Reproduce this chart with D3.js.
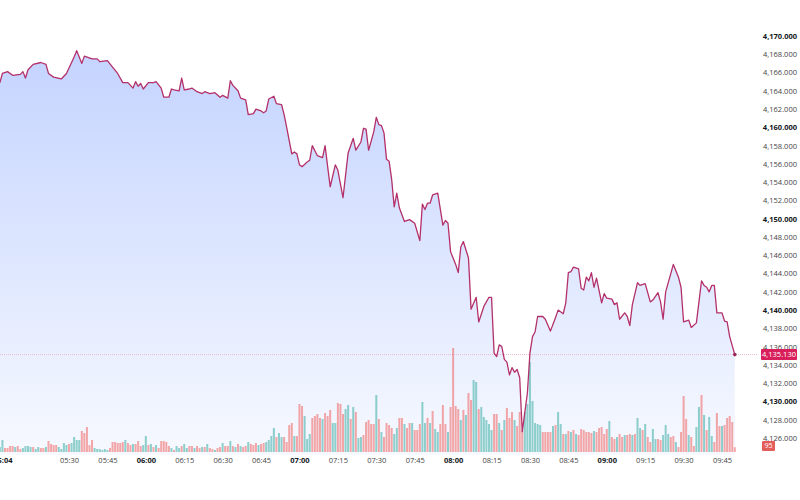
<!DOCTYPE html>
<html>
<head>
<meta charset="utf-8">
<script src="https://cdn.jsdelivr.net/npm/d3@7"></script>
<style>
  body { margin: 0; background: #fff; }
  svg text { font-family: "Open Sans", Roboto, sans-serif; }
</style>
</head>
<body>
<div id="chart"></div>
<script>
const parseTime = d3.timeParse("%H:%M");

// price line
const priceTimes = [
  "05:02","05:03","05:04","05:06","05:08","05:11","05:12","05:13","05:14","05:16",
  "05:19","05:21","05:22","05:24","05:27","05:29","05:32","05:33","05:35","05:36",
  "05:39","05:41","05:42","05:45","05:47","05:49","05:51","05:53","05:55","05:56",
  "05:57","05:58","05:59","06:01","06:03","06:04","06:06","06:07","06:09","06:10",
  "06:11","06:13","06:14","06:15","06:17","06:18","06:20","06:22","06:23","06:25",
  "06:27","06:29","06:30","06:32","06:33","06:34","06:36","06:37","06:39","06:40",
  "06:42","06:43","06:45","06:46","06:47","06:48","06:50","06:51","06:53","06:54",
  "06:55","06:57","06:58","06:59","07:00","07:01","07:03","07:04","07:05","07:07",
  "07:09","07:10","07:11","07:12","07:14","07:15","07:17","07:19","07:21","07:22",
  "07:24","07:25","07:26","07:27","07:29","07:30","07:31","07:32","07:33","07:34",
  "07:35","07:36","07:37","07:38","07:39","07:41","07:43","07:45","07:47","07:48",
  "07:49","07:50","07:51","07:52","07:54","07:56","07:57","07:58","07:59","08:01",
  "08:02","08:03","08:04","08:06","08:07","08:09","08:10","08:12","08:14","08:15",
  "08:16","08:17","08:18","08:19","08:20","08:21","08:22","08:23","08:24","08:25",
  "08:26","08:27","08:29","08:30","08:31","08:32","08:33","08:35","08:36","08:38",
  "08:40","08:41","08:43","08:44","08:45","08:46","08:47","08:49","08:50","08:51",
  "08:52","08:53","08:54","08:55","08:56","08:58","08:59","09:00","09:02","09:03",
  "09:04","09:05","09:07","09:08","09:09","09:10","09:12","09:13","09:15","09:17",
  "09:18","09:20","09:21","09:22","09:23","09:26","09:28","09:29","09:30","09:32",
  "09:33","09:35","09:37","09:38","09:39","09:40","09:41","09:42","09:43","09:45",
  "09:46","09:47","09:48","09:50"
];
const priceValues = [
  4164.7,4164.9,4165.9,4166.1,4165.7,4165.8,4166.1,4165.4,4166.3,4166.9,
  4167.1,4166.9,4165.9,4165.5,4165.3,4165.9,4167.7,4168.4,4167.0,4167.8,
  4167.5,4167.5,4167.2,4167.3,4166.6,4165.9,4164.9,4164.9,4164.3,4165.0,
  4164.5,4164.8,4164.2,4164.9,4164.9,4165.0,4164.3,4163.3,4163.3,4164.2,
  4164.1,4164.0,4165.4,4164.1,4164.2,4164.3,4163.9,4163.7,4163.9,4163.7,
  4163.8,4163.3,4163.5,4163.2,4165.1,4164.6,4164.0,4163.2,4163.0,4161.4,
  4161.5,4162.0,4161.8,4161.6,4161.8,4163.1,4163.4,4162.6,4162.5,4161.4,
  4160.0,4157.1,4157.3,4157.1,4155.9,4155.7,4156.2,4156.4,4158.0,4156.9,
  4156.7,4158.0,4155.7,4153.5,4155.9,4155.3,4152.3,4157.2,4158.8,4157.5,
  4158.4,4159.9,4159.8,4157.5,4159.5,4161.1,4160.3,4160.2,4159.4,4156.5,
  4156.3,4154.3,4151.3,4152.8,4151.2,4149.7,4149.9,4149.5,4147.6,4151.6,
  4151.0,4151.7,4151.7,4152.6,4152.8,4149.3,4149.8,4149.5,4146.4,4145.0,
  4144.1,4146.9,4147.5,4145.7,4140.1,4141.4,4138.7,4140.4,4141.4,4141.4,
  4135.3,4134.9,4136.2,4136.0,4134.6,4134.3,4132.9,4133.7,4133.2,4133.5,
  4132.6,4126.7,4130.9,4135.3,4137.1,4137.6,4139.3,4139.3,4139.0,4137.7,
  4139.2,4140.0,4139.6,4140.8,4144.1,4144.2,4144.7,4144.5,4142.4,4142.2,
  4143.6,4143.2,4144.1,4142.5,4143.5,4140.8,4141.8,4141.3,4141.2,4140.6,
  4140.8,4139.0,4139.7,4139.3,4138.3,4140.6,4143.0,4142.7,4142.9,4140.9,
  4141.1,4141.9,4140.9,4139.0,4142.0,4145.0,4143.6,4142.5,4138.7,4138.9,
  4138.1,4138.6,4143.2,4142.7,4142.5,4142.0,4142.7,4142.7,4139.7,4139.7,
  4138.8,4138.7,4137.1,4135.13
];

// one volume bar per minute from 05:03
const volStart = "05:03";
const volumes = [
  100,240,80,80,120,120,100,120,60,80,
  120,120,100,100,60,100,80,80,100,220,
  160,140,140,100,60,180,140,160,180,300,
  240,240,420,380,500,140,240,80,60,60,
  40,60,40,80,200,200,180,180,200,240,
  180,140,160,160,220,120,140,320,140,160,
  100,140,80,220,220,200,120,80,40,120,
  80,120,160,80,120,120,80,120,80,100,
  100,160,80,60,40,80,100,180,120,120,
  220,120,100,160,120,100,120,200,160,140,
  180,140,160,180,200,240,320,480,300,380,
  300,300,200,540,580,320,320,960,920,720,
  260,360,680,720,760,680,660,780,720,840,
  580,580,980,960,760,860,940,660,900,800,
  280,300,340,600,640,560,560,1140,660,400,
  300,580,540,480,360,480,680,680,560,480,
  580,580,440,440,560,1000,580,680,580,820,
  460,400,560,940,560,400,900,2080,920,860,
  640,840,740,1180,1040,1440,1400,860,900,700,
  640,560,440,760,760,580,440,640,880,680,
  800,640,520,800,440,800,960,1800,1020,580,
  560,540,400,400,400,400,520,540,800,560,
  360,360,420,400,440,360,340,460,440,400,
  400,380,420,400,480,500,360,460,620,300,
  260,300,360,300,340,340,360,340,360,680,
  480,440,560,300,200,460,260,260,240,340,
  540,360,300,320,200,100,400,1120,660,340,
  300,120,500,900,1140,740,440,700,320,200,
  780,520,520,540,680,720,600,95
];
// u = up bar (teal), d = down bar (red)
const volDir =
  "uudddduddu" + "uuuduuddud" + "ddduuuuduu" + "uuddddduuu" + "uuuddddddu" +
  "dduddduudu" + "dudddddudu" + "uduudduddu" + "dudduddudd" + "udududdudd" +
  "dudduuuudu" + "uddddudddu" + "uudddduddd" + "uuddduudud" + "uudddddudu" +
  "dddduuddud" + "duddduudud" + "uudddudddd" + "ududduuduu" + "uuuddududd" +
  "duddduuuuu" + "uudddduduu" + "dudududddd" + "ddudddddud" + "dudduddudu" +
  "ududduuddu" + "uudduddddu" + "dduududuud" + "dduddddd";

const xTickLabels = ["05:04","05:30","05:45","06:00","06:15","06:30","06:45","07:00",
  "07:15","07:30","07:45","08:00","08:15","08:30","08:45","09:00","09:15","09:30","09:45"];
const yTickValues = d3.range(4126, 4171, 2);

const lastPrice = priceValues[priceValues.length - 1];
const lastVolume = volumes[volumes.length - 1];

const width = 800, height = 500;
const plotRight = 758;
const paneBottom = 455;

const svg = d3.select("#chart").append("svg")
  .attr("width", width)
  .attr("height", height);

const x = d3.scaleTime()
  .domain([parseTime("05:30"), parseTime("09:45")])
  .range([69, 722]);

const y = d3.scaleLinear()
  .domain([4126, 4170])
  .range([438, 36]);

const yVol = d3.scaleLinear()
  .domain([0, 2200])
  .range([452, 342]);

const prices = priceTimes.map((t, i) => ({ t: parseTime(t), v: priceValues[i] }));
const t0 = parseTime(volStart);
const bars = volumes.map((v, i) => ({ t: d3.timeMinute.offset(t0, i), v, up: volDir[i] === "u" }));

const defs = svg.append("defs");
defs.append("clipPath").attr("id", "plot-clip")
  .append("rect").attr("x", 0).attr("y", 0).attr("width", plotRight).attr("height", paneBottom);

const grad = defs.append("linearGradient")
  .attr("id", "area-grad")
  .attr("gradientUnits", "userSpaceOnUse")
  .attr("x1", 0).attr("x2", 0)
  .attr("y1", 45).attr("y2", paneBottom);
grad.append("stop").attr("offset", "0%").attr("stop-color", "rgba(41,98,255,0.28)");
grad.append("stop").attr("offset", "100%").attr("stop-color", "rgba(41,98,255,0.04)");

const plot = svg.append("g").attr("clip-path", "url(#plot-clip)");

const area = d3.area()
  .x(d => x(d.t))
  .y0(paneBottom)
  .y1(d => y(d.v));

plot.append("path")
  .datum(prices)
  .attr("d", area)
  .attr("fill", "url(#area-grad)");

// last price line
plot.append("line")
  .attr("x1", 0).attr("x2", plotRight)
  .attr("y1", y(lastPrice)).attr("y2", y(lastPrice))
  .attr("stroke", "#e6a3b9")
  .attr("stroke-width", 1)
  .attr("stroke-dasharray", "1,1")
  .attr("opacity", 0.7);

plot.selectAll("rect.vol")
  .data(bars)
  .enter()
  .append("rect")
  .attr("class", "vol")
  .attr("x", d => x(d.t) - 1)
  .attr("width", 2)
  .attr("y", d => yVol(d.v))
  .attr("height", d => yVol(0) - yVol(d.v))
  .attr("fill", d => d.up ? "rgba(38,166,154,0.5)" : "rgba(239,83,80,0.5)");

const line = d3.line()
  .x(d => x(d.t))
  .y(d => y(d.v));

plot.append("path")
  .datum(prices)
  .attr("d", line)
  .attr("fill", "none")
  .attr("stroke", "#b3306a")
  .attr("stroke-width", 1.3)
  .attr("stroke-linejoin", "round");

const lastPt = prices[prices.length - 1];
plot.append("circle")
  .attr("cx", x(lastPt.t))
  .attr("cy", y(lastPt.v))
  .attr("r", 1.8)
  .attr("fill", "#9c2659");

// right price axis
const yAxis = d3.axisRight(y)
  .tickValues(yTickValues)
  .tickSize(0)
  .tickPadding(0)
  .tickFormat(d3.format(",.3f"));

const yAxisG = svg.append("g")
  .attr("transform", "translate(780,0)")
  .call(yAxis);
yAxisG.select(".domain").remove();
yAxisG.selectAll("text")
  .attr("text-anchor", "middle")
  .attr("font-size", 7.5)
  .attr("fill", d => d % 10 === 0 ? "#131722" : "#444")
  .attr("font-weight", d => d % 10 === 0 ? "bold" : "normal");

// last price tag
const tagG = svg.append("g").attr("transform", `translate(761,${y(lastPrice)})`);
tagG.append("rect")
  .attr("x", 0).attr("y", -5.5)
  .attr("width", 36).attr("height", 11)
  .attr("rx", 1)
  .attr("fill", "#d81e5b");
tagG.append("text")
  .attr("x", 18).attr("y", 0)
  .attr("dy", "0.35em")
  .attr("text-anchor", "middle")
  .attr("font-size", 7.5)
  .attr("fill", "#fff")
  .text(d3.format(",.3f")(lastPrice));

// volume tag
const volTag = svg.append("g").attr("transform", "translate(762,446)");
volTag.append("rect")
  .attr("x", 0).attr("y", -5)
  .attr("width", 13).attr("height", 10)
  .attr("rx", 1)
  .attr("fill", "#e35d5b");
volTag.append("text")
  .attr("x", 6.5).attr("y", 0)
  .attr("dy", "0.35em")
  .attr("text-anchor", "middle")
  .attr("font-size", 7)
  .attr("fill", "#fff")
  .text(lastVolume);

// time axis
const xAxis = d3.axisBottom(x)
  .tickValues(xTickLabels.map(parseTime))
  .tickSize(0)
  .tickPadding(0)
  .tickFormat(d3.timeFormat("%H:%M"));

const xAxisG = svg.append("g")
  .attr("transform", "translate(0,458)")
  .call(xAxis);
xAxisG.select(".domain").remove();
xAxisG.selectAll("text")
  .attr("font-size", 7.5)
  .attr("fill", (d, i) => (i === 0 || d.getMinutes() === 0) ? "#131722" : "#444")
  .attr("font-weight", (d, i) => (i === 0 || d.getMinutes() === 0) ? "bold" : "normal");
</script>
</body>
</html>
